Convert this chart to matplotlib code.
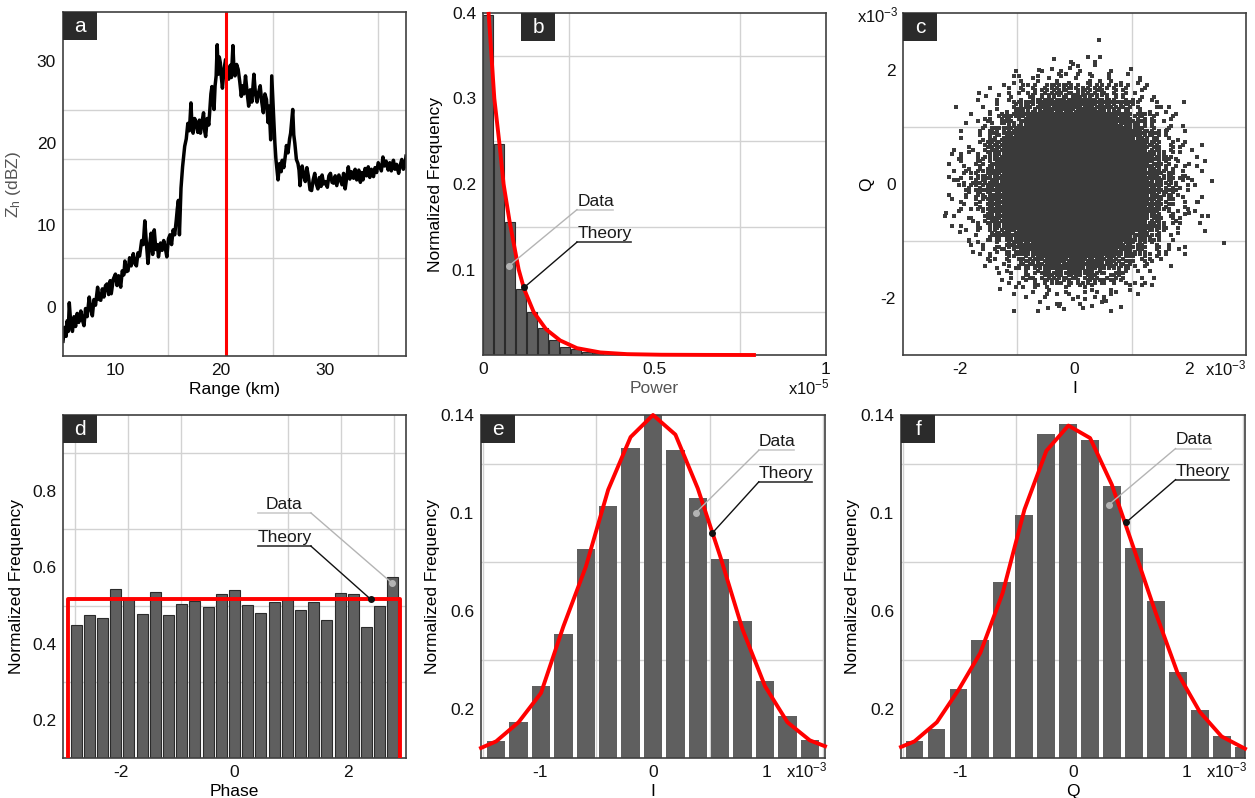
import numpy as np
import matplotlib.pyplot as plt
from matplotlib.patches import Rectangle

plt.rcParams['font.family'] = ['Liberation Sans', 'DejaVu Sans']
plt.rcParams['mathtext.fontset'] = 'custom'
plt.rcParams['mathtext.rm'] = 'Liberation Sans'
plt.rcParams['mathtext.it'] = 'Liberation Sans:italic'
plt.rcParams['axes.unicode_minus'] = False

# ---- (a) reflectivity profile ----
range_km = [5.0, 5.15, 5.3, 5.4, 5.5, 5.6, 5.75, 5.9, 6.05, 6.2, 6.35, 6.5, 6.7, 6.85, 7.0, 7.15, 7.3, 7.5,
            7.65, 7.8, 7.95, 8.1, 8.3, 8.45, 8.6, 8.75, 8.9, 9.05, 9.2, 9.35, 9.5, 9.6, 9.8, 10.0, 10.15,
            10.3, 10.5, 10.65, 10.8, 10.9, 11.05, 11.2, 11.35, 11.5, 11.7, 11.85, 12.0, 12.15, 12.3, 12.5,
            12.65, 12.8, 12.95, 13.1, 13.25, 13.4, 13.55, 13.7, 13.85, 14.0, 14.1, 14.3, 14.45, 14.6, 14.75,
            14.9, 15.05, 15.2, 15.35, 15.5, 15.65, 15.8, 15.9, 16.0, 16.1, 16.25, 16.4, 16.6, 16.75, 16.9,
            17.05, 17.2, 17.3, 17.4, 17.55, 17.7, 17.85, 18.0, 18.1, 18.25, 18.4, 18.5, 18.6, 18.75, 18.9,
            19.0, 19.1, 19.2, 19.3, 19.4, 19.5, 19.6, 19.7, 19.8, 19.9, 20.0, 20.1, 20.2, 20.35, 20.5, 20.65,
            20.8, 20.95, 21.05, 21.2, 21.3, 21.4, 21.55, 21.7, 21.85, 22.0, 22.1, 22.25, 22.4, 22.55, 22.7,
            22.85, 23.0, 23.2, 23.35, 23.5, 23.65, 23.8, 23.95, 24.1, 24.25, 24.4, 24.55, 24.65, 24.8, 24.9,
            25.05, 25.2, 25.3, 25.4, 25.5, 25.65, 25.8, 25.9, 26.05, 26.2, 26.3, 26.45, 26.6, 26.7, 26.9,
            27.0, 27.1, 27.25, 27.4, 27.5, 27.6, 27.7, 27.8, 27.95, 28.1, 28.25, 28.4, 28.55, 28.7, 28.85,
            29.0, 29.15, 29.3, 29.45, 29.6, 29.7, 29.85, 30.0, 30.2, 30.35, 30.5, 30.65, 30.8, 30.95, 31.1,
            31.3, 31.45, 31.6, 31.75, 31.9, 32.05, 32.2, 32.35, 32.5, 32.7, 32.85, 33.0, 33.2, 33.35, 33.5,
            33.6, 33.8, 33.95, 34.1, 34.25, 34.4, 34.6, 34.75, 34.9, 35.05, 35.2, 35.35, 35.5, 35.65, 35.8,
            36.0, 36.15, 36.3, 36.5, 36.65, 36.8, 37.0, 37.15, 37.3, 37.45, 37.6, 37.7]
zh_dbz = [-4.2, -2.5, -3.6, -1.7, -3.0, 0.5, -2.2, -3.0, -1.2, -2.4, -0.8, -1.9, -0.5, -1.6, -2.3, -0.2, -1.2, 1.2,
          -0.3, -1.1, 0.9, 0.2, 2.4, 0.9, 0.8, 2.2, 1.2, 2.6, 2.8, 1.5, 3.2, 1.6, 3.4, 4.0, 2.6,
          3.8, 2.4, 4.4, 3.9, 5.6, 4.3, 4.4, 6.0, 5.0, 6.5, 5.3, 5.0, 6.6, 6.2, 8.1,
          7.6, 10.5, 7.8, 5.3, 7.5, 9.0, 6.4, 9.4, 7.0, 7.6, 6.1, 7.8, 6.9, 8.1, 7.2,
          6.1, 8.3, 8.8, 7.6, 9.4, 8.8, 10.6, 12.0, 13.0, 8.8, 14.5, 17.1, 19.6, 20.5, 22.4,
          21.5, 24.9, 22.0, 21.2, 23.0, 22.4, 21.3, 22.8, 21.2, 22.6, 23.7, 21.5, 20.8, 23.0, 22.2,
          24.1, 26.0, 26.9, 25.0, 24.1, 27.0, 28.2, 32.0, 28.4, 30.5, 29.8, 28.0, 26.7, 29.0, 30.2, 28.6,
          27.8, 29.5, 28.0, 31.9, 29.0, 28.2, 29.6, 29.0, 27.5, 25.7, 27.0, 26.0, 28.2, 26.2, 24.5,
          26.5, 25.0, 28.4, 26.0, 25.0, 26.2, 27.0, 25.0, 23.7, 26.0, 25.3, 22.5, 24.5, 20.4, 28.2,
          24.0, 20.0, 18.0, 16.7, 15.5, 17.5, 16.5, 17.9, 17.0, 18.5, 19.7, 18.8, 20.5, 21.2, 24.1,
          21.0, 20.0, 18.0, 17.5, 16.7, 14.8, 16.2, 17.2, 16.0, 15.3, 17.0, 15.9, 14.3, 14.2, 15.5,
          16.3, 15.0, 14.4, 15.8, 14.7, 16.1, 15.0, 15.3, 14.6, 16.0, 16.3, 15.2, 15.1, 16.0, 14.8,
          16.1, 15.5, 14.9, 16.3, 14.4, 15.8, 17.1, 15.6, 16.5, 15.7, 16.8, 15.5, 16.7, 15.2, 16.4,
          15.5, 16.9, 16.0, 17.1, 15.8, 16.8, 15.9, 17.0, 16.4, 17.6, 17.1, 16.6, 18.3, 17.2, 17.8,
          16.7, 17.6, 16.6, 17.9, 16.8, 17.4, 16.3, 17.3, 18.0, 16.8, 17.2, 18.4]
marker_km = 20.5

# ---- (b) power histogram (x1e-5) ----
power_bin_width = 0.0322
power_freq = [0.398, 0.247, 0.155, 0.0776, 0.050, 0.031, 0.017, 0.009, 0.007, 0.004, 0.002]
power_theory_x = [0.0165, 0.033, 0.048, 0.060, 0.078, 0.104, 0.120, 0.148, 0.184, 0.225, 0.274,
                  0.342, 0.42, 0.52, 0.65, 0.79]
power_theory_y = [0.399, 0.30, 0.247, 0.20, 0.155, 0.10, 0.077, 0.05, 0.03, 0.017, 0.008,
                  0.003, 0.001, 0.0003, 0.0001, 0.0]

# ---- (c) I/Q scatter (x1e-3): density levels read per 0.25 cell, plus isolated points ----
iq_cell = 0.25
iq_i_first = -2.375   # centre of first column
iq_q_first = 2.375    # centre of first row
iq_density = [
    "000000000000000000000",
    "000000001111000000000",
    "000001122222211000000",
    "000012345555432100000",
    "000123568888653210000",
    "001235799999975321000",
    "001257999999997521000",
    "012369999999999632100",
    "012479999999999742100",
    "013579999999999753100",
    "013579999999999753100",
    "012479999999999742100",
    "012369999999999632100",
    "001257999999997521000",
    "001235799999975321000",
    "000123568888653210000",
    "000012345555432100000",
    "000001122222211000000",
    "000000011111100000000",
]
level_counts = [0, 2, 4, 7, 11, 16, 21, 26, 31, 36]
sub_order = [0, 21, 9, 33, 14, 26, 3, 30, 18, 7, 35, 23, 11, 28, 1, 16, 32, 5, 25, 12, 20, 34,
             8, 27, 2, 15, 31, 19, 6, 24, 10, 29, 13, 4, 22, 17]
outlier_i = [0.43, 2.41, 2.62, 2.29, 2.29, 2.16, 2.33, -2.24, -2.07, -2.19, -1.67, -1.05, -0.47, 0.15,
             0.82, -1.02, 0.35, -0.08, 1.83, 2.01, -2.04, -2.26, -1.31, 2.01, 1.52, 1.14, 1.92, -1.85,
             -0.62, 0.55, 1.35, -1.55, 1.62, -2.0, 0.98, -0.25]
outlier_q = [2.52, 0.06, -1.03, 0.41, -0.83, -0.32, -0.57, -0.51, 1.35, 0.13, 1.60, -2.22, -2.17, -2.17,
             -2.16, 1.98, 2.08, 2.04, -1.14, -0.50, 0.07, -0.57, -1.85, 0.35, 1.35, 1.83, 1.43, -1.0,
             2.0, -2.05, -1.78, 1.55, 0.95, -0.85, 2.02, -2.1]

# ---- (d) phase histogram ----
phase_centers = np.linspace(-2.8, 2.8, 25)
phase_freq = [0.448, 0.475, 0.467, 0.544, 0.520, 0.477, 0.536, 0.474, 0.505, 0.513, 0.497, 0.530, 0.541,
              0.502, 0.480, 0.509, 0.521, 0.488, 0.509, 0.462, 0.532, 0.530, 0.444, 0.498, 0.575]
phase_theory_x = [-2.94, -2.94, 2.93, 2.93]
phase_theory_y = [0.0, 0.518, 0.518, 0.0]

# ---- (e) I histogram (x1e-3) ----
i_centers = np.linspace(-1.386, 1.386, 15)
i_freq = [0.0071, 0.0147, 0.0293, 0.0506, 0.0854, 0.103, 0.1265, 0.1405, 0.1256, 0.106, 0.0812, 0.0561,
          0.0313, 0.0173, 0.0075]
i_theory_x = [-1.52, -1.386, -1.188, -0.99, -0.792, -0.594, -0.396, -0.198, 0.0, 0.198, 0.396, 0.594,
              0.792, 0.99, 1.188, 1.386, 1.52]
i_theory_y = [0.0041, 0.0068, 0.0146, 0.0265, 0.0537, 0.078, 0.1095, 0.131, 0.140, 0.132, 0.110, 0.0823,
              0.0524, 0.0293, 0.0146, 0.0072, 0.0048]

# ---- (f) Q histogram (x1e-3) ----
q_centers = np.linspace(-1.401, 1.509, 16)
q_freq = [0.0071, 0.0118, 0.0282, 0.048, 0.0717, 0.0993, 0.1324, 0.1363, 0.130, 0.111, 0.0857, 0.0642,
          0.035, 0.0195, 0.0088, 0.0046]
q_theory_x = [-1.52, -1.401, -1.203, -1.010, -0.819, -0.622, -0.429, -0.235, -0.041, 0.151, 0.343, 0.541,
              0.731, 0.924, 1.121, 1.313, 1.52]
q_theory_y = [0.0045, 0.0068, 0.0146, 0.0279, 0.0429, 0.0673, 0.1014, 0.1254, 0.1357, 0.1306, 0.1116,
              0.085, 0.0592, 0.0347, 0.0188, 0.0088, 0.0038]

BAR = '#5f5f5f'
RED = '#ff0000'
W, H = 1255, 798
fig = plt.figure(figsize=(W / 100, H / 100), dpi=100)


def new_axes(x0, y0, x1, y1):
    return fig.add_axes([x0 / W, 1 - y1 / H, (x1 - x0) / W, (y1 - y0) / H])


def style(ax, xmaj, xlab, ymaj, ylab, xgrid, ygrid):
    ax.set_xticks(xmaj)
    ax.set_xticklabels(xlab)
    ax.set_yticks(ymaj)
    ax.set_yticklabels(ylab)
    ax.set_xticks(xgrid, minor=True)
    ax.set_yticks(ygrid, minor=True)
    ax.grid(which='minor', color='#d2d2d2', lw=1.0)
    ax.grid(which='major', visible=False)
    ax.set_axisbelow(True)
    ax.tick_params(which='both', length=0, labelsize=12.5, colors='#111111')
    ax.tick_params(axis='x', pad=5)
    ax.tick_params(axis='y', pad=5)
    for s in ax.spines.values():
        s.set_color('#404040')
        s.set_linewidth(1.2)


def tag(ax, letter, x0=0.0):
    ax.add_patch(Rectangle((x0, 0.918), 0.1, 0.082, transform=ax.transAxes, facecolor='#2b2b2b',
                           edgecolor='none', zorder=9, clip_on=False))
    ax.text(x0 + 0.05, 0.957, letter, transform=ax.transAxes, color='white', fontsize=15,
            ha='center', va='center', zorder=10)


def callout(ax, text, tx, ty, ux0, ux1, uy, px, py, dark, from_right=False):
    line_c = '#111111' if dark else '#b4b4b4'
    under_c = '#333333' if dark else '#cccccc'
    ax.text(tx, ty, text, fontsize=12.5, color='#1a1a1a', ha='left', va='center', zorder=8)
    ax.plot([ux0, ux1], [uy, uy], color=under_c, lw=1.2, zorder=8, clip_on=False)
    sx = ux1 if from_right else ux0
    ax.plot([sx, px], [uy, py], color=line_c, lw=1.0, zorder=8)
    ax.plot([px], [py], 'o', color=line_c, ms=4, zorder=9)


def mult(ax, x, y, txt):
    ax.text(x, y, txt, transform=ax.transAxes, fontsize=12, ha='center', va='center', color='#111111')


# ---------- (a)
ax = new_axes(63, 12, 406, 356)
ax.plot(range_km, zh_dbz, color='black', lw=2.5)
ax.axvline(marker_km, color=RED, lw=2.2)
ax.set_xlim(5, 37.7)
ax.set_ylim(-6, 36)
style(ax, [10, 20, 30], ['10', '20', '30'], [0, 10, 20, 30], ['0', '10', '20', '30'],
      [10, 15, 20, 25, 30, 35], [0, 6, 12, 18, 24, 30])
ax.set_xlabel('Range (km)', fontsize=12.5, labelpad=3)
ax.set_ylabel('Z$_\\mathrm{h}$ (dBZ)', fontsize=12.5, color='#555555', labelpad=10)
tag(ax, 'a')

# ---------- (b)
ax = new_axes(483, 13, 826, 355)
edges = np.arange(len(power_freq)) * power_bin_width
ax.bar(edges, power_freq, width=power_bin_width * 0.9, align='edge', color=BAR,
       edgecolor='#2b2b2b', lw=0.8)
ax.plot(power_theory_x, power_theory_y, color=RED, lw=2.8, clip_on=False, zorder=5)
ax.set_xlim(0, 1)
ax.set_ylim(0, 0.4)
style(ax, [0, 0.5, 1], ['0', '0.5', '1'], [0.1, 0.2, 0.3, 0.4], ['0.1', '0.2', '0.3', '0.4'],
      [0.25, 0.5, 0.75], [0.05, 0.1, 0.15, 0.2, 0.25, 0.3, 0.35])
ax.set_xlabel('Power', fontsize=12.5, color='#555555', labelpad=3)
ax.set_ylabel('Normalized Frequency', fontsize=12.5, labelpad=6)
mult(ax, 0.95, -0.096, 'x10$^{-5}$')
callout(ax, 'Data', 0.276, 0.180, 0.274, 0.379, 0.170, 0.075, 0.104, False)
callout(ax, 'Theory', 0.276, 0.142, 0.274, 0.431, 0.132, 0.120, 0.079, True)
tag(ax, 'b', 0.111)

# ---------- (c)
ax = new_axes(903, 13, 1246, 355)
pts_i, pts_q = [], []
for r, row in enumerate(iq_density):
    qc = iq_q_first - r * iq_cell
    for c, ch in enumerate(row):
        n = level_counts[int(ch)]
        ic = iq_i_first + c * iq_cell
        shift = (r * 7 + c * 11) % 36
        for k in range(n):
            idx = sub_order[(k + shift) % 36]
            pts_i.append(ic - iq_cell / 2 + (idx % 6 + 0.5) * iq_cell / 6)
            pts_q.append(qc - iq_cell / 2 + (idx // 6 + 0.5) * iq_cell / 6)
pts_i += outlier_i
pts_q += outlier_q
ax.scatter(pts_i, pts_q, s=7, marker='s', color='#3a3a3a', linewidths=0)
ax.set_xlim(-3, 3)
ax.set_ylim(-3, 3)
style(ax, [-2, 0, 2], ['-2', '0', '2'], [-2, 0, 2], ['-2', '0', '2'],
      [-2, -1, 0, 1, 2], [-2, -1, 0, 1, 2])
ax.set_xlabel('I', fontsize=12.5, labelpad=3)
ax.set_ylabel('Q', fontsize=12.5, labelpad=5)
mult(ax, 0.942, -0.038, 'x10$^{-3}$')
mult(ax, -0.073, 0.994, 'x10$^{-3}$')
tag(ax, 'c')

# ---------- (d)
ax = new_axes(63, 415, 406, 758)
ax.bar(phase_centers, phase_freq, width=0.194, color=BAR, edgecolor='#2b2b2b', lw=0.8)
ax.plot(phase_theory_x, phase_theory_y, color=RED, lw=2.8, zorder=5)
ax.set_xlim(-3.03, 3.03)
ax.set_ylim(0.1, 1.0)
style(ax, [-2, 0, 2], ['-2', '0', '2'], [0.2, 0.4, 0.6, 0.8], ['0.2', '0.4', '0.6', '0.8'],
      [-2.82, -1.88, -0.94, 0, 0.94, 1.88, 2.82], [0.2, 0.3, 0.4, 0.5, 0.6, 0.7, 0.8, 0.9])
ax.set_xlabel('Phase', fontsize=12.5, labelpad=3)
ax.set_ylabel('Normalized Frequency', fontsize=12.5, labelpad=6)
callout(ax, 'Data', 0.546, 0.764, 0.41, 1.35, 0.743, 2.79, 0.558, False, from_right=True)
callout(ax, 'Theory', 0.41, 0.678, 0.41, 1.35, 0.656, 2.41, 0.516, True, from_right=True)
tag(ax, 'd')

# ---------- (e) and (f)
gauss_ticks = [0.02, 0.06, 0.10, 0.14]
gauss_labels = ['0.2', '0.6', '0.1', '0.14']
for (x0, x1), centers, freq, width, tx, ty, xlabel, letter, notes in [
        ((481, 825), i_centers, i_freq, 0.162, i_theory_x, i_theory_y, 'I', 'e',
         [(0.935, 0.1293, 1.25, 0.1256, 0.376, 0.100), (0.935, 0.116, 1.406, 0.1127, 0.524, 0.0918)]),
        ((901, 1245), q_centers, q_freq, 0.156, q_theory_x, q_theory_y, 'Q', 'f',
         [(0.906, 0.130, 1.221, 0.1263, 0.318, 0.1034), (0.906, 0.117, 1.376, 0.1136, 0.47, 0.0962)])]:
    ax = new_axes(x0, 415, x1, 758)
    ax.bar(centers, freq, width=width, color=BAR, edgecolor='none')
    ax.plot(tx, ty, color=RED, lw=2.8, clip_on=False, zorder=5)
    ax.set_xlim(-1.52, 1.52)
    ax.set_ylim(0, 0.14)
    style(ax, [-1, 0, 1], ['-1', '0', '1'], gauss_ticks, gauss_labels,
          [-1.5, -1, -0.5, 0, 0.5, 1, 1.5], [0.02, 0.04, 0.06, 0.08, 0.10, 0.12])
    ax.set_xlabel(xlabel, fontsize=12.5, labelpad=3)
    ax.set_ylabel('Normalized Frequency', fontsize=12.5, labelpad=0)
    mult(ax, 0.947, -0.035, 'x10$^{-3}$')
    d, t = notes
    callout(ax, 'Data', d[0], d[1], d[0], d[2], d[3], d[4], d[5], False)
    callout(ax, 'Theory', t[0], t[1], t[0], t[2], t[3], t[4], t[5], True)
    tag(ax, letter)

fig.savefig('out.png', dpi=100)
